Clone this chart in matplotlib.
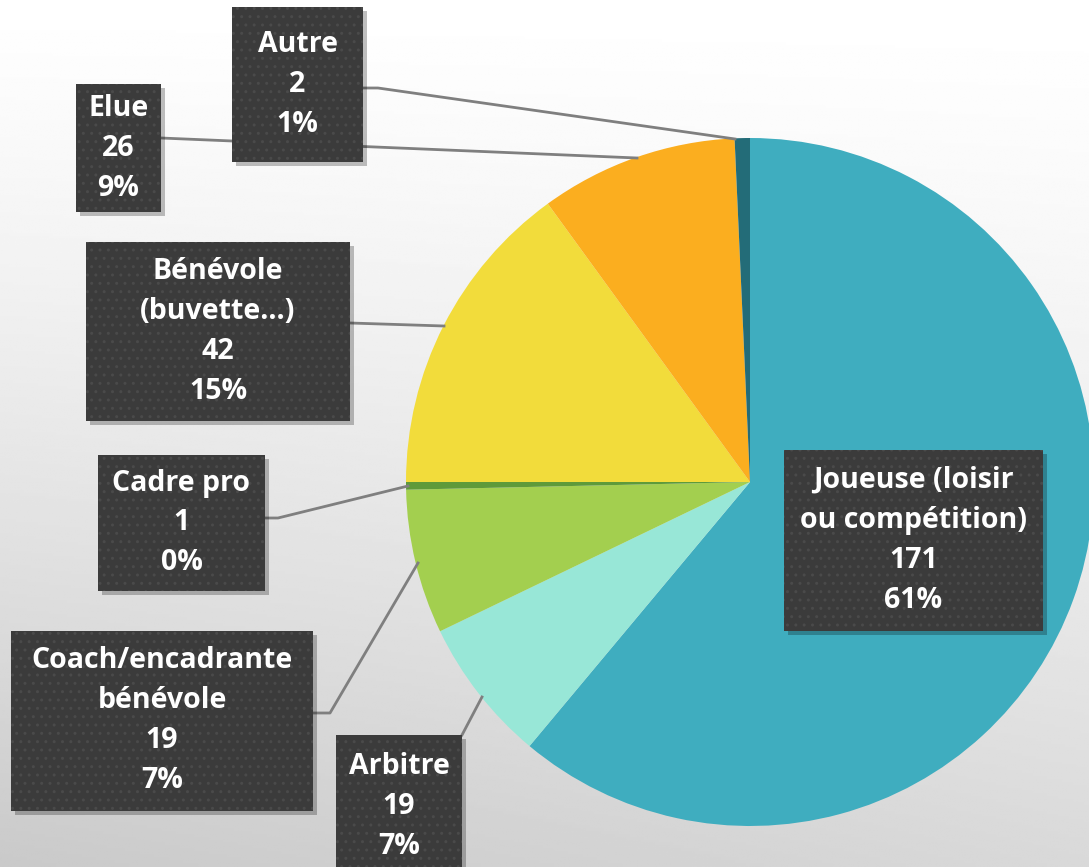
import matplotlib.pyplot as plt
import numpy as np
from matplotlib.patches import Rectangle

# data, clockwise from the top
categories = ["Joueuse (loisir\nou compétition)", "Arbitre", "Coach/encadrante\nbénévole",
              "Cadre pro", "Bénévole\n(buvette…)", "Elue", "Autre"]
counts = [171, 19, 19, 1, 42, 26, 2]
colors = ["#3FADBF", "#98E7D7", "#A3CF4F", "#5E9A3A", "#F2DC3B", "#FBAE1F", "#236C78"]

W, H = 1089, 867
fig = plt.figure(figsize=(W / 100, H / 100), dpi=100)
ax = fig.add_axes([0, 0, 1, 1])

def fy(y):  # pixel y (from top) -> data y
    return H - y

# background gradient (white at top, grey towards the bottom left)
xx, yy = np.meshgrid(np.linspace(0, 1, 300), np.linspace(0, 1, 300))
bg = 1 - 0.15 * yy ** 1.3 - 0.06 * (1 - xx) * yy
ax.imshow(bg, cmap="gray", vmin=0, vmax=1, extent=[0, W, 0, H], origin="upper", zorder=0)

# pie
cx, cy, r = 750, fy(482), 344
wedges, _ = ax.pie(counts, colors=colors, startangle=90, counterclock=False,
                   radius=r, center=(cx, cy), frame=True,
                   wedgeprops=dict(linewidth=0, zorder=2))

total = sum(counts)

# label boxes (left, top, right, bottom in pixels) and leader lines
boxes = [(784, 450, 1043, 631), (336, 735, 462, 877), (11, 631, 313, 811),
         (98, 455, 265, 591), (86, 242, 350, 421), (76, 84, 161, 212), (232, 7, 363, 162)]
leaders = [None,
           [(462, 735), (482, 697)],
           [(313, 713), (330, 713), (418, 563)],
           [(265, 518), (278, 518), (408, 486)],
           [(350, 323), (444, 326)],
           [(161, 138), (637, 158)],
           [(363, 88), (378, 88), (735, 139)]]

for pts in leaders:
    if pts is None:
        continue
    ax.plot([p[0] for p in pts], [fy(p[1]) for p in pts], color="#7f7f7f", lw=2, zorder=3)

for i, (name, n) in enumerate(zip(categories, counts)):
    l, t, rr, b = boxes[i]
    # shadow
    ax.add_patch(Rectangle((l + 4, fy(b) - 4), rr - l, b - t, facecolor="#000000",
                           alpha=0.25, lw=0, zorder=4))
    ax.add_patch(Rectangle((l, fy(b)), rr - l, b - t, facecolor="#3b3b3b",
                           edgecolor="#4a4a4a", hatch="..", lw=0, zorder=5))
    pct = round(100 * n / total)
    ax.text((l + rr) / 2, fy((t + b) / 2), f"{name}\n{n}\n{pct}%",
            ha="center", va="center", multialignment="center",
            color="white", fontsize=20.5, fontweight="bold", family="Open Sans",
            linespacing=1.5, zorder=6)

ax.set_xlim(0, W)
ax.set_ylim(0, H)
ax.set_aspect("auto")
ax.axis("off")

fig.savefig("out.png", dpi=100)
